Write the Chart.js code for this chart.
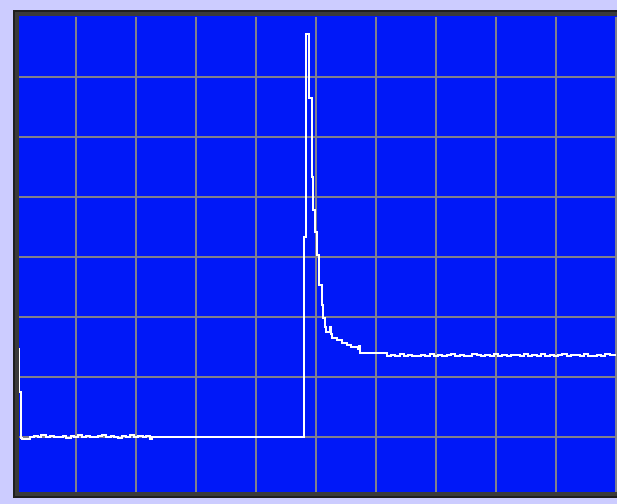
<!DOCTYPE html>
<html>
<head>
<meta charset="utf-8">
<script src="https://cdn.jsdelivr.net/npm/chart.js@4/dist/chart.umd.min.js"></script>
<style>
  html, body { margin: 0; padding: 0; background: #ccccff; }
  canvas { display: block; }
</style>
</head>
<body>
<canvas id="scope" width="617" height="504"></canvas>
<script>
// sample index (0..600) and level (0..480, 60 per division)
const leadSamples = [0, 3, 5, 6, 14, 18, 22, 25, 30, 34, 38, 42, 47, 50, 55, 58, 62, 66, 70, 74, 79, 82, 86, 90, 95, 98, 102, 106, 110, 114, 118, 122, 127, 130, 134, 136];
const leadLevels = [148, 105, 59, 58, 60, 61, 60, 62, 60, 61, 60, 60, 61, 59, 61, 60, 62, 60, 61, 60, 60, 61, 62, 60, 61, 60, 59, 61, 60, 62, 60, 61, 60, 61, 58, 60];

const pulseSamples = [288, 290, 293, 296, 297, 299, 301, 303, 306, 307, 309, 310, 314, 315, 316, 321, 326, 331, 335, 342, 343, 344];
const pulseLevels = [260, 463, 399, 320, 287, 265, 242, 212, 192, 179, 170, 165, 170, 163, 159, 157, 154, 152, 150, 148, 151, 144];

const tailSamples = [371, 375, 379, 384, 388, 392, 396, 401, 405, 409, 414, 418, 422, 426, 431, 435, 439, 444, 448, 452, 456, 461, 465, 469, 474, 478, 482, 486, 491, 495, 499, 504, 508, 512, 516, 521, 525, 529, 534, 538, 542, 546, 551, 555, 559, 564, 568, 572, 576, 581, 585, 589, 594, 600];
const tailLevels = [141, 142, 141, 143, 141, 142, 141, 141, 142, 141, 143, 141, 142, 141, 142, 143, 141, 142, 141, 141, 143, 142, 141, 142, 141, 143, 141, 142, 141, 142, 142, 141, 143, 141, 142, 141, 143, 141, 142, 141, 142, 143, 141, 142, 142, 141, 143, 141, 141, 142, 141, 143, 142, 142];

const samples = leadSamples.concat(pulseSamples, tailSamples);
const levels = leadLevels.concat(pulseLevels, tailLevels);
const trace = samples.map((s, i) => ({ x: s, y: levels[i] }));

// blue screen behind the plot, dark bezel on top of it
const screen = {
  id: 'screen',
  beforeDraw(chart) {
    const ctx = chart.ctx;
    ctx.save();
    ctx.fillStyle = '#0018f8';
    ctx.fillRect(13, 10, 604, 488);
    ctx.restore();
  },
  afterDraw(chart) {
    const ctx = chart.ctx;
    ctx.save();
    ctx.fillStyle = '#3a3a3a';
    ctx.fillRect(13, 10, 604, 6);   // top
    ctx.fillRect(13, 10, 6, 488);   // left
    ctx.fillRect(13, 492, 604, 6);  // bottom
    ctx.fillStyle = '#1e1e1e';
    ctx.fillRect(13, 10, 604, 2);
    ctx.fillRect(13, 10, 2, 488);
    ctx.fillRect(13, 496, 604, 2);
    ctx.restore();
  }
};

new Chart(document.getElementById('scope'), {
  type: 'line',
  data: {
    datasets: [{
      data: trace,
      borderColor: '#ffffff',
      borderWidth: 2,
      pointRadius: 0,
      stepped: true,
      fill: false
    }]
  },
  options: {
    responsive: false,
    animation: false,
    devicePixelRatio: 1,
    layout: { padding: { left: 16, top: 17, right: 1, bottom: 7 } },
    plugins: { legend: { display: false }, tooltip: { enabled: false } },
    scales: {
      x: {
        type: 'linear',
        min: 0,
        max: 600,
        ticks: { display: false, stepSize: 60 },
        border: { display: false },
        grid: { color: '#80808c', lineWidth: 2, drawTicks: false }
      },
      y: {
        min: 0,
        max: 480,
        ticks: { display: false, stepSize: 60 },
        border: { display: false },
        grid: {
          color: ctx => (ctx.tick && ctx.tick.value === 480) ? 'rgba(0,0,0,0)' : '#80808c',
          lineWidth: 2,
          drawTicks: false
        }
      }
    }
  },
  plugins: [screen]
});
</script>
</body>
</html>
